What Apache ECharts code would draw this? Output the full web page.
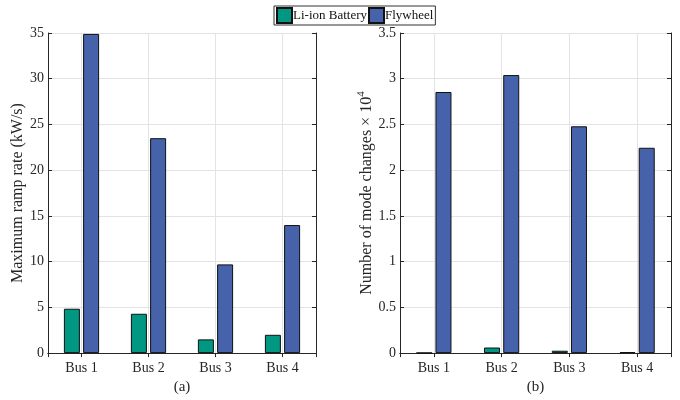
<!DOCTYPE html>
<html lang="en">
<head>
    <meta charset="UTF-8">
    <title>Ramp rate and mode changes</title>
    <script src="https://cdn.jsdelivr.net/npm/echarts@6.0.0/dist/echarts.min.js"></script>
    <style>
        html, body { margin: 0; padding: 0; background: #fff; }
    </style>
</head>
<body>
<div id="main" style="width: 680px; height:400px;"></div>
<script>
    var buses = ['Bus 1', 'Bus 2', 'Bus 3', 'Bus 4'];
    // (a) maximum ramp rate, kW/s
    var rampBattery = [4.85, 4.3, 1.5, 2.0];
    var rampFlywheel = [34.9, 23.5, 9.7, 14.0];
    // (b) number of mode changes, x 10^4
    var modeBattery = [0.003, 0.061, 0.026, 0.012];
    var modeFlywheel = [2.855, 3.04, 2.48, 2.245];

    var font = 'Liberation Serif';
    var axisColor = '#262626';
    var gridColor = '#e3e3e3';
    var green = '#009882';
    var blue = '#4662AB';

    function bottomAxis(grid, name) {
        return {
            type: 'category', gridIndex: grid, data: buses,
            name: name, nameLocation: 'middle', nameGap: 25,
            nameTextStyle: { fontFamily: font, fontSize: 15, color: axisColor },
            axisLine: { lineStyle: { color: axisColor } },
            axisTick: { alignWithLabel: true, inside: true, length: 4, lineStyle: { color: axisColor } },
            axisLabel: { fontFamily: font, fontSize: 14, color: axisColor, margin: 8 },
            splitLine: { show: false }
        };
    }
    // top axis: a value axis over the category positions, so the ticks and
    // vertical grid lines sit on the bar groups like in the original
    function topAxis(grid) {
        return {
            type: 'value', gridIndex: grid, position: 'top',
            min: 0.5, max: 4.5,
            axisLine: { show: true, lineStyle: { color: axisColor } },
            axisTick: { show: true, inside: true, length: 4, lineStyle: { color: axisColor } },
            axisLabel: { show: false },
            splitLine: { show: true, lineStyle: { color: gridColor } }
        };
    }
    function leftAxis(grid, max, step, name, gap, rich) {
        return {
            type: 'value', gridIndex: grid, min: 0, max: max, interval: step,
            name: name, nameLocation: 'middle', nameGap: gap,
            nameTextStyle: { fontFamily: font, fontSize: 16, color: axisColor, rich: rich },
            axisLine: { show: true, lineStyle: { color: axisColor } },
            axisTick: { show: true, inside: true, length: 4, lineStyle: { color: axisColor } },
            axisLabel: { fontFamily: font, fontSize: 14, color: axisColor, margin: 4 },
            splitLine: { show: true, lineStyle: { color: gridColor } }
        };
    }
    function rightAxis(grid, max, step) {
        return {
            type: 'value', gridIndex: grid, min: 0, max: max, interval: step, position: 'right',
            axisLine: { show: true, lineStyle: { color: axisColor } },
            axisTick: { show: true, inside: true, length: 4, lineStyle: { color: axisColor } },
            axisLabel: { show: false },
            splitLine: { show: false }
        };
    }
    function bars(name, color, data, xi, yi) {
        return {
            name: name, type: 'bar', data: data,
            xAxisIndex: xi, yAxisIndex: yi,
            barWidth: 16, barGap: '20%',
            itemStyle: { color: color, borderColor: '#111', borderWidth: 1 },
            emphasis: { disabled: true }
        };
    }

    var chart = echarts.init(document.getElementById('main'));
    var option = {
        animation: false,
        legend: {
            data: ['Li-ion Battery', 'Flywheel'],
            top: 6, left: 274,
            padding: [1, 2, 1, 2],
            itemGap: 1, itemWidth: 15, itemHeight: 15,
            icon: 'rect',
            borderColor: '#333', borderWidth: 1,
            textStyle: { fontFamily: font, fontSize: 13, color: '#111', padding: [0, 0, 0, -4] }
        },
        grid: [
            { left: 48, top: 33, width: 268, height: 328 },
            { left: 400, top: 33, width: 271, height: 328 }
        ],
        xAxis: [
            bottomAxis(0, '(a)'), topAxis(0),
            bottomAxis(1, '(b)'), topAxis(1)
        ],
        yAxis: [
            leftAxis(0, 35, 5, 'Maximum ramp rate (kW/s)', 20),
            rightAxis(0, 35, 5),
            leftAxis(1, 3.5, 0.5, 'Number of mode changes \u00d7 10{sup|4}', 22,
                { sup: { fontFamily: font, fontSize: 11, color: axisColor, padding: [0, 0, 10, 0] } }),
            rightAxis(1, 3.5, 0.5)
        ],
        series: [
            bars('Li-ion Battery', green, rampBattery, 0, 0),
            bars('Flywheel', blue, rampFlywheel, 0, 0),
            bars('Li-ion Battery', green, modeBattery, 2, 2),
            bars('Flywheel', blue, modeFlywheel, 2, 2)
        ]
    };
    chart.setOption(option);
</script>
</body>
</html>
